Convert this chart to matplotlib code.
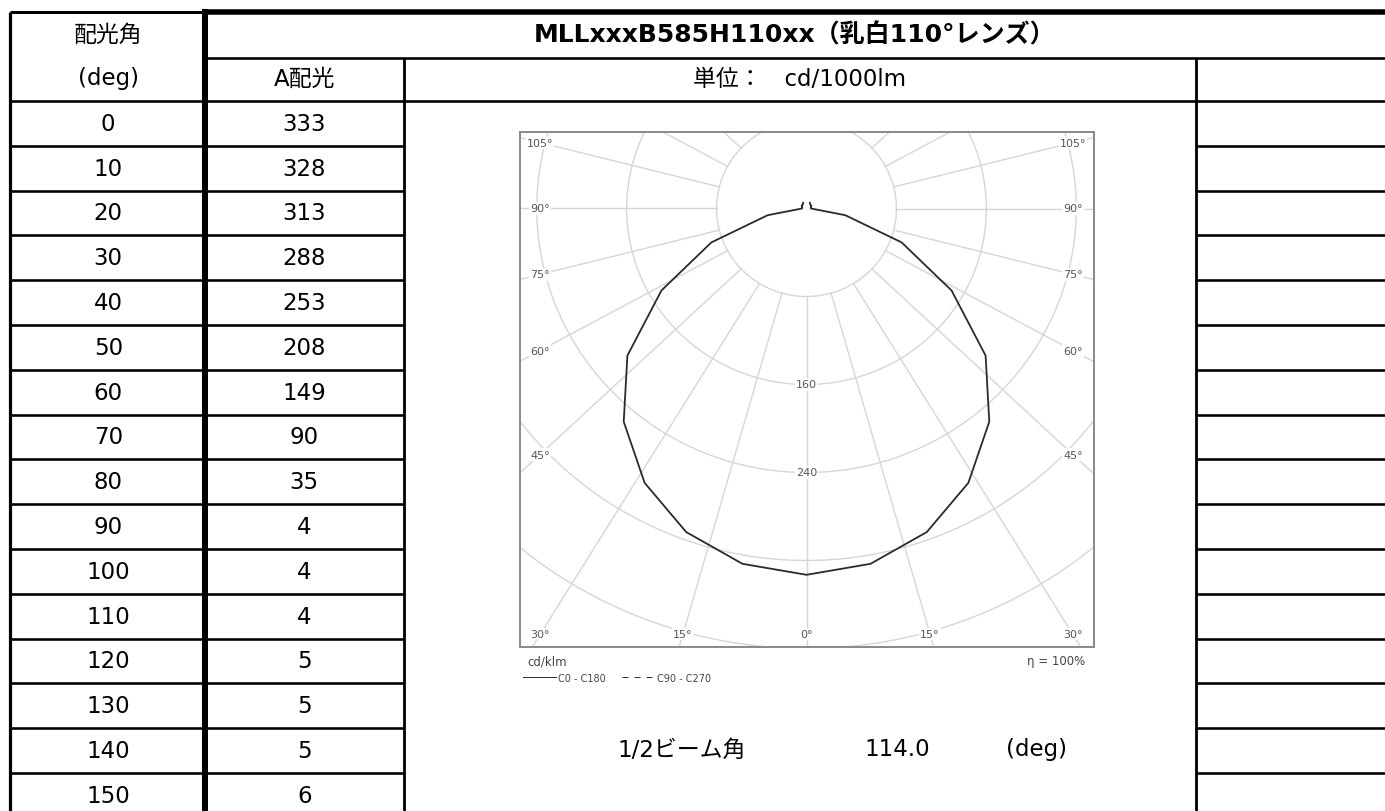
import numpy as np
import matplotlib
matplotlib.use("Agg")
import matplotlib.pyplot as plt
from matplotlib.lines import Line2D

plt.rcParams['font.family'] = ['DejaVu Sans', 'Noto Sans CJK JP']

# table data (cd/1000lm)
angles = [0, 10, 20, 30, 40, 50, 60, 70, 80, 90, 100, 110, 120, 130, 140, 150]
a_values = [333, 328, 313, 288, 253, 208, 149, 90, 35, 4, 4, 4, 5, 5, 5, 6]

title = "MLLxxxB585H110xx（乳白110°レンズ）"
unit_label = "単位：　cd/1000lm"
col_head = ["配光角", "(deg)", "A配光"]
beam_label = "1/2ビーム角"
beam_value = 114.0

# polar diagram grid
circle_r = [80, 160, 240, 320, 400]
ray_angles = np.arange(0, 360, 15)
side_labels = [0, 15, 30, 45, 60, 75, 90, 105]
ring_labels = [160, 240]

W, H = 1385, 812
fig = plt.figure(figsize=(W / 100, H / 100), dpi=100)
bg = fig.add_axes([0, 0, 1, 1])
bg.set_xlim(0, W)
bg.set_ylim(H, 0)
bg.axis('off')

px = 0.72  # points per pixel
x_left, x_mid, x_a, x_chart, x_end = 9.5, 205, 403.5, 1195.5, W
y_top, y_head2, y_data = 13, 58.5, 102
row_h = 44.8
edges = y_data + row_h * np.arange(len(angles) + 1)

# header lines
bg.hlines(y_top, x_left, x_mid, color='k', lw=3 * px)
bg.hlines(y_top - 0.5, x_mid, x_end, color='k', lw=5.5 * px)
bg.hlines(y_head2, x_mid, x_end, color='k', lw=2.6 * px)
bg.hlines(y_data, x_left, x_end, color='k', lw=2.6 * px)
# data row lines
for y in edges[1:]:
    bg.hlines(y, x_left, x_a, color='k', lw=2.6 * px)
    bg.hlines(y, x_chart, x_end, color='k', lw=2.6 * px)
# vertical lines
bg.vlines(x_left, y_top, H, color='k', lw=3.2 * px)
bg.vlines(x_mid, y_top - 3, H, color='k', lw=6 * px)
bg.vlines(x_a, y_head2, H, color='k', lw=2.8 * px)
bg.vlines(x_chart, y_head2, H, color='k', lw=2.8 * px)

fs = 16.5
c0 = (x_left + x_mid) / 2 + 1
c1 = (x_mid + x_a) / 2
bg.text(c0, 35, col_head[0], ha='center', va='center', fontsize=fs)
bg.text(c0, 79, col_head[1], ha='center', va='center', fontsize=fs)
bg.text(c1, 79, col_head[2], ha='center', va='center', fontsize=fs)
bg.text((x_mid + x_end) / 2, 35, title, ha='center', va='center',
        fontsize=18, fontweight='bold')
bg.text((x_a + x_chart) / 2, 79, unit_label, ha='center', va='center', fontsize=fs)
for i, (ang, val) in enumerate(zip(angles, a_values)):
    yc = (edges[i] + edges[i + 1]) / 2
    bg.text(c0, yc, str(ang), ha='center', va='center', fontsize=fs)
    bg.text(c1, yc, str(val), ha='center', va='center', fontsize=fs)

bg.text(682, 750, beam_label, ha='center', va='center', fontsize=fs)
bg.text(897, 750, f"{beam_value:.1f}", ha='center', va='center', fontsize=fs)
bg.text(1037, 750, "(deg)", ha='center', va='center', fontsize=fs)

# polar diagram (pixel box and scale)
bx0, bx1, by0, by1 = 519.5, 1093.5, 133, 648
cx, cy = 806.5, 209.5
sx, sy = 1.124, 1.10
ray_stretch = 1.06
ax = fig.add_axes([bx0 / W, 1 - by1 / H, (bx1 - bx0) / W, (by1 - by0) / H])
xl = ((bx0 - cx) / sx, (bx1 - cx) / sx)
yl = (-(by1 - cy) / sy, (cy - by0) / sy)
ax.set_xlim(*xl)
ax.set_ylim(*yl)
ax.set_xticks([])
ax.set_yticks([])
for s in ax.spines.values():
    s.set_color('#8c8c8c')
    s.set_linewidth(2 * px)

grid_c = '#d6d6d6'
t = np.linspace(0, 2 * np.pi, 400)
for r in circle_r:
    ax.plot(r * np.cos(t), r * np.sin(t), color=grid_c, lw=1.4 * px, zorder=1)
for a in ray_angles:
    th = np.radians(a)
    d = np.array([ray_stretch * np.sin(th), -np.cos(th)])
    d /= np.hypot(*d)
    ax.plot([circle_r[0] * d[0], 900 * d[0]], [circle_r[0] * d[1], 900 * d[1]],
            color=grid_c, lw=1.4 * px, zorder=1)

lab_kw = dict(fontsize=8, color='#555555', ha='center', va='center', zorder=3,
              bbox=dict(fc='white', ec='none', pad=0.8))
ix = xl[1] - 20.5 / sx
iy = yl[0] + 13 / sy
for a in side_labels:
    th = np.radians(a)
    for sgn in ([1] if a == 0 else [-1, 1]):
        dx, dy = sgn * ray_stretch * np.sin(th), -np.cos(th)
        ts = []
        if abs(dx) > 1e-9:
            ts.append(ix / abs(dx))
        if dy < 0:
            ts.append(iy / dy)
        tt = min(ts)
        ax.text(tt * dx, tt * dy, f"{a}°", **lab_kw)
for r in ring_labels:
    ax.text(0, -r, str(r), **lab_kw)

# luminous intensity curve, mirrored on both sides
ang = np.radians(np.array(angles, dtype=float))
val = np.array(a_values, dtype=float)
xs = np.concatenate([-(val * np.sin(ang))[::-1], val * np.sin(ang)])
ys = np.concatenate([-(val * np.cos(ang))[::-1], -val * np.cos(ang)])
ax.plot(xs, ys, color='#2a2a2a', lw=1.8 * px, zorder=2)

handles = [Line2D([], [], color='#333333', lw=1 * px, label='C0 - C180'),
           Line2D([], [], color='#333333', lw=1 * px, ls=(0, (6, 6)), label='C90 - C270')]
leg = ax.legend(handles=handles, loc='upper left', bbox_to_anchor=(0.006, -0.05),
                ncol=2, frameon=False, fontsize=7, handlelength=3.4, handletextpad=0.25,
                columnspacing=1.6, borderaxespad=0, borderpad=0, labelspacing=0)
for txt in leg.get_texts():
    txt.set_color('#444444')
ax.text(0.013, -0.027, "cd/klm", transform=ax.transAxes, ha='left', va='center',
        fontsize=8.5, color='#444444')
ax.text(0.985, -0.027, "η = 100%", transform=ax.transAxes, ha='right', va='center',
        fontsize=8.5, color='#444444')

fig.savefig('out.png', dpi=100)
